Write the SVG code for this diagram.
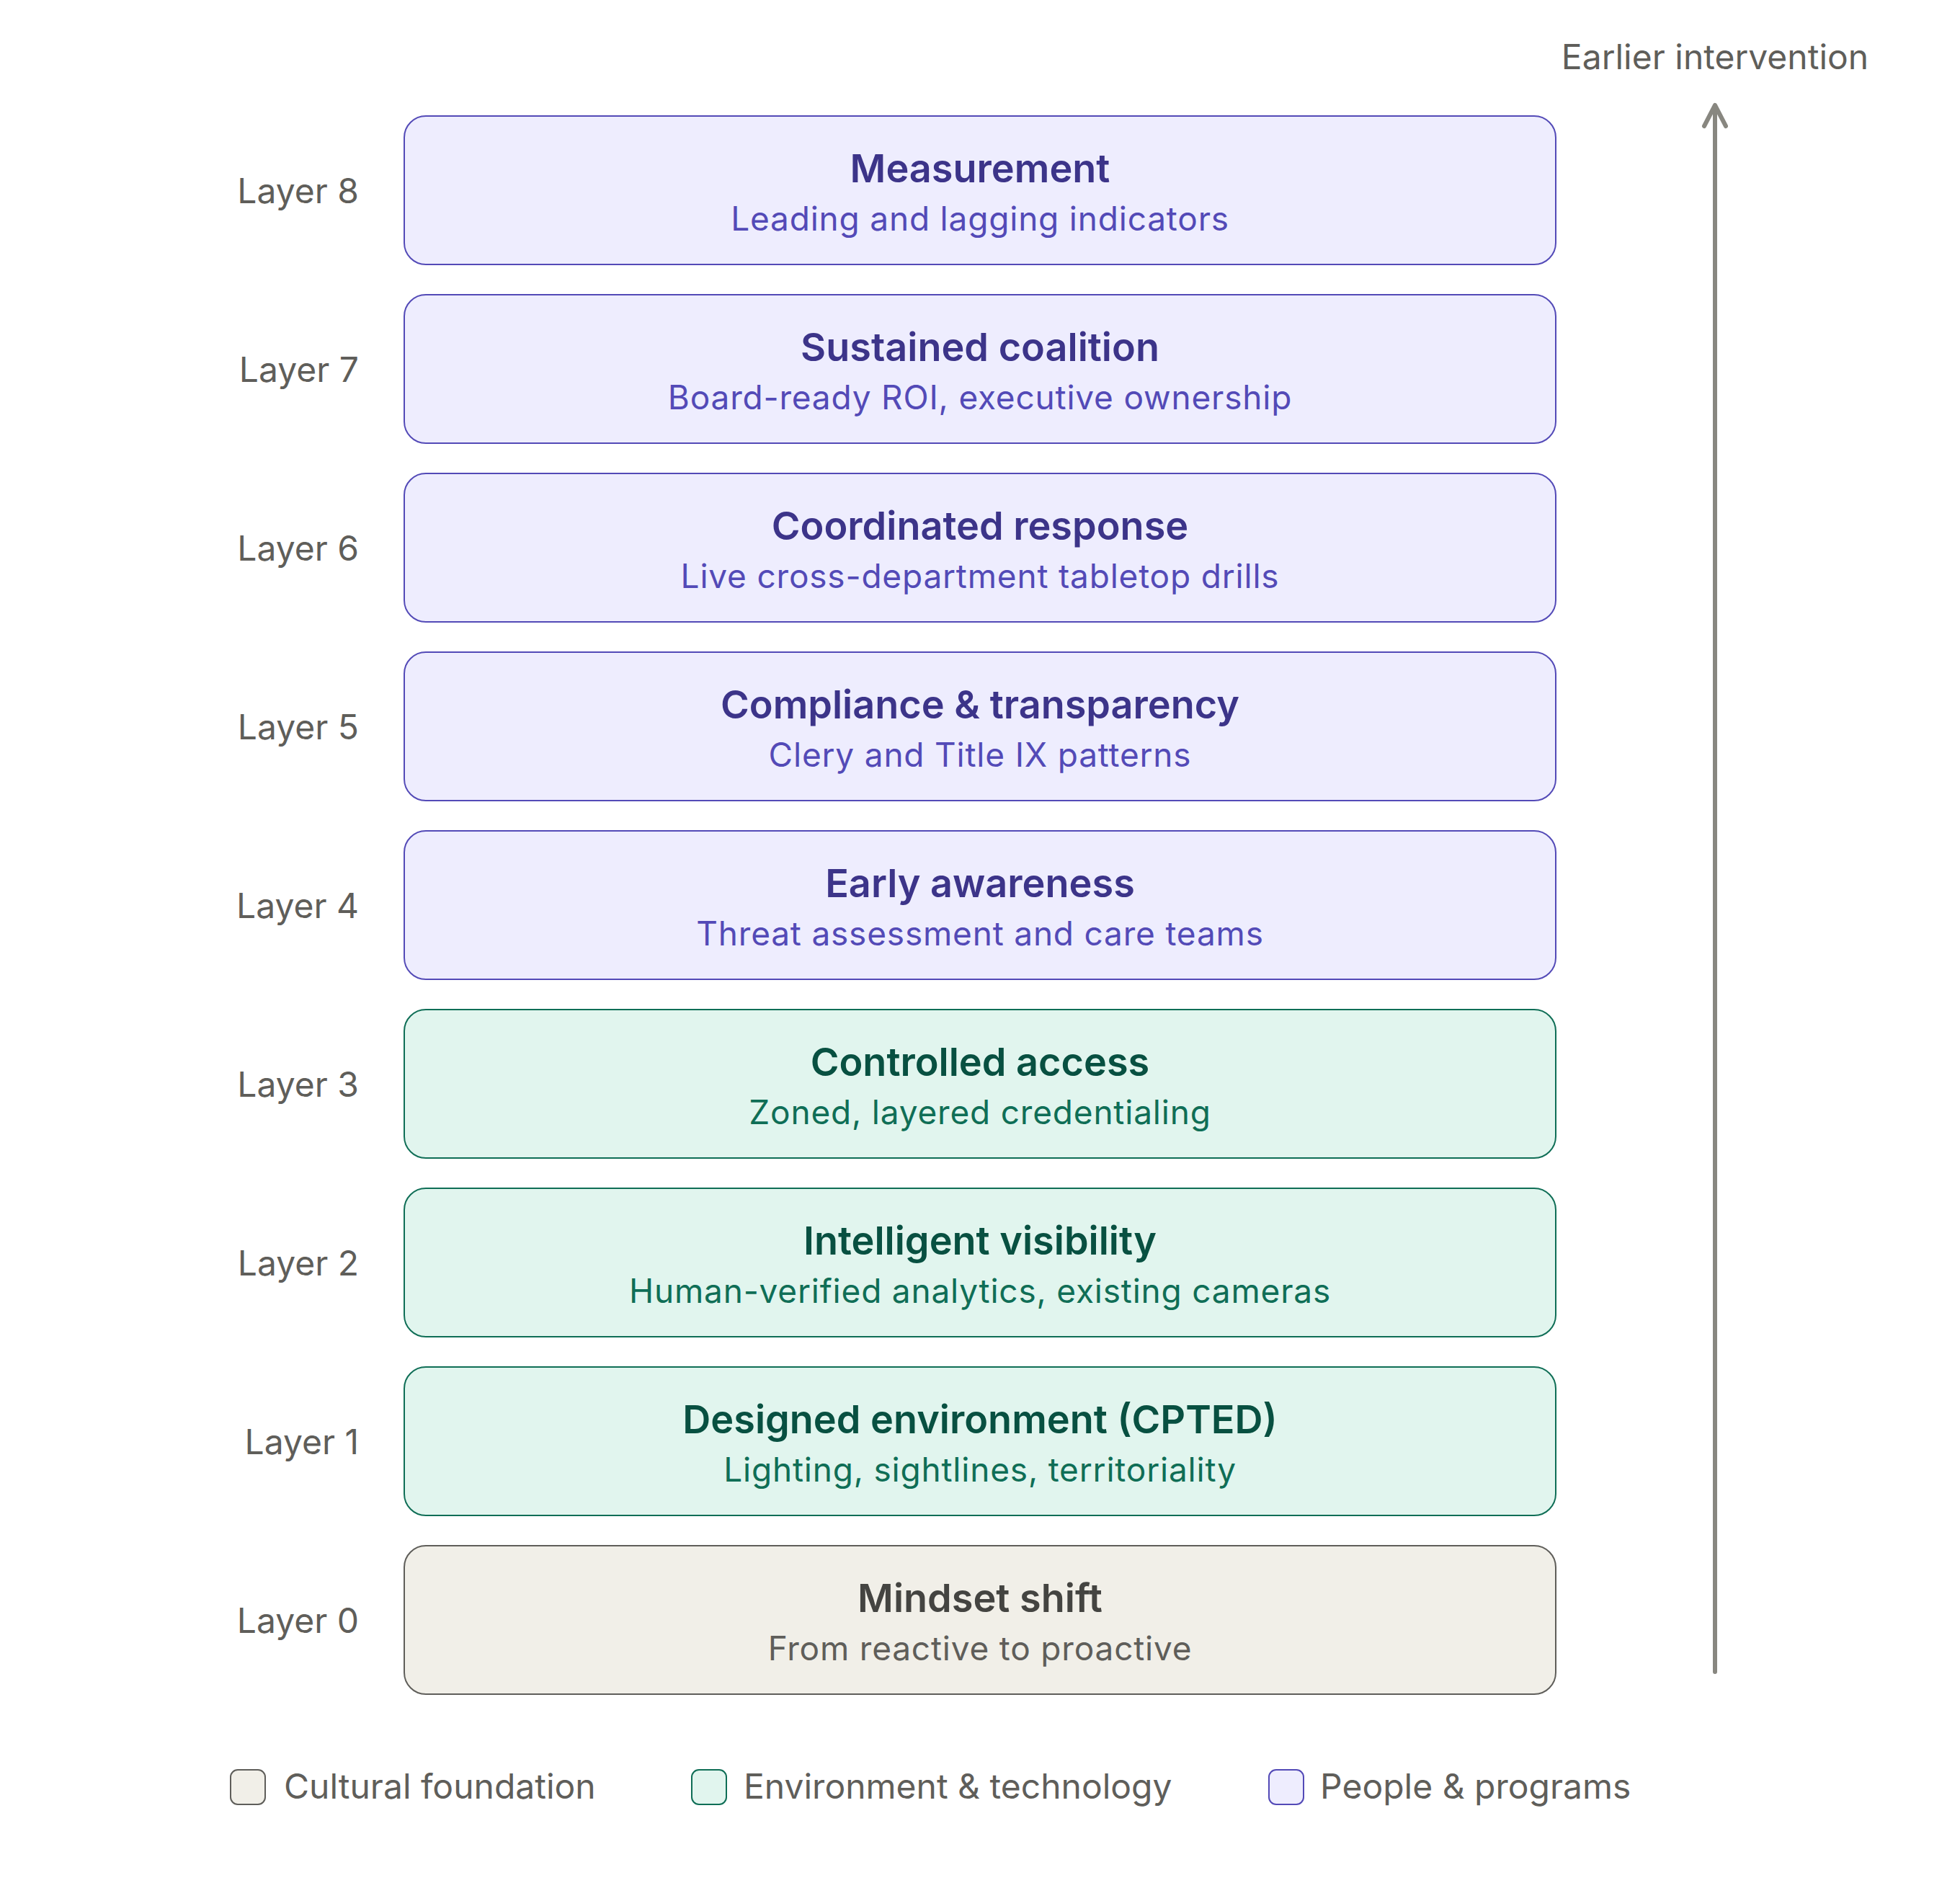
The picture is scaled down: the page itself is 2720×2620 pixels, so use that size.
<svg xmlns="http://www.w3.org/2000/svg" width="2720" height="2620" viewBox="0 0 2720 2620">
<style>
text{font-family:Inter,"Noto Sans","Liberation Sans",sans-serif}
.t{font-size:54px;font-weight:600;text-anchor:middle}
.s{font-size:46px;font-weight:400;text-anchor:middle;letter-spacing:0.8px}
.lab{font-size:48px;fill:#5F5E5A;text-anchor:end}
.leg{font-size:48px;fill:#5F5E5A}
.box{stroke-width:2}
.p rect{fill:#EEEDFE;stroke:#534AB7}
.p .t{fill:#3C3489}
.p .s{fill:#534AB7}
.g rect{fill:#E1F5EE;stroke:#0F6E56}
.g .t{fill:#085041}
.g .s{fill:#0F6E56}
.c rect{fill:#F1EFE8;stroke:#5F5E5A}
.c .t{fill:#444441}
.c .s{fill:#5F5E5A}
</style>
<rect width="2720" height="2620" fill="#FFFFFF"/>
<g id="connectors" stroke="#888780" stroke-width="6" fill="none" stroke-linecap="round" stroke-linejoin="round">
<line x1="2380" y1="2320" x2="2380" y2="150"/>
<polyline points="2365,175 2380,146 2395,175"/>
</g>
<text x="2380" y="96" style="font-size:48px;fill:#5F5E5A;text-anchor:middle">Earlier intervention</text>
<g id="layer8" class="p"><rect class="box" x="561" y="161" width="1598" height="206" rx="30"/><text class="t" x="1360" y="253">Measurement</text><text class="s" x="1360" y="320">Leading and lagging indicators</text><text class="lab" x="498" y="282">Layer 8</text></g>
<g id="layer7" class="p"><rect class="box" x="561" y="409" width="1598" height="206" rx="30"/><text class="t" x="1360" y="501">Sustained coalition</text><text class="s" x="1360" y="568">Board-ready ROI, executive ownership</text><text class="lab" x="498" y="530">Layer 7</text></g>
<g id="layer6" class="p"><rect class="box" x="561" y="657" width="1598" height="206" rx="30"/><text class="t" x="1360" y="749">Coordinated response</text><text class="s" x="1360" y="816">Live cross-department tabletop drills</text><text class="lab" x="498" y="778">Layer 6</text></g>
<g id="layer5" class="p"><rect class="box" x="561" y="905" width="1598" height="206" rx="30"/><text class="t" x="1360" y="997">Compliance &amp; transparency</text><text class="s" x="1360" y="1064">Clery and Title IX patterns</text><text class="lab" x="498" y="1026">Layer 5</text></g>
<g id="layer4" class="p"><rect class="box" x="561" y="1153" width="1598" height="206" rx="30"/><text class="t" x="1360" y="1245">Early awareness</text><text class="s" x="1360" y="1312">Threat assessment and care teams</text><text class="lab" x="498" y="1274">Layer 4</text></g>
<g id="layer3" class="g"><rect class="box" x="561" y="1401" width="1598" height="206" rx="30"/><text class="t" x="1360" y="1493">Controlled access</text><text class="s" x="1360" y="1560">Zoned, layered credentialing</text><text class="lab" x="498" y="1522">Layer 3</text></g>
<g id="layer2" class="g"><rect class="box" x="561" y="1649" width="1598" height="206" rx="30"/><text class="t" x="1360" y="1741">Intelligent visibility</text><text class="s" x="1360" y="1808">Human-verified analytics, existing cameras</text><text class="lab" x="498" y="1770">Layer 2</text></g>
<g id="layer1" class="g"><rect class="box" x="561" y="1897" width="1598" height="206" rx="30"/><text class="t" x="1360" y="1989">Designed environment (CPTED)</text><text class="s" x="1360" y="2056">Lighting, sightlines, territoriality</text><text class="lab" x="498" y="2018">Layer 1</text></g>
<g id="layer0" class="c"><rect class="box" x="561" y="2145" width="1598" height="206" rx="30"/><text class="t" x="1360" y="2237">Mindset shift</text><text class="s" x="1360" y="2304">From reactive to proactive</text><text class="lab" x="498" y="2266">Layer 0</text></g>
<g id="legend">
<g class="c"><rect class="box" x="320" y="2456" width="48" height="48" rx="10"/><text class="leg" x="394" y="2496">Cultural foundation</text></g>
<g class="g"><rect class="box" x="960" y="2456" width="48" height="48" rx="10"/><text class="leg" x="1032" y="2496">Environment &amp; technology</text></g>
<g class="p"><rect class="box" x="1761" y="2456" width="48" height="48" rx="10"/><text class="leg" x="1832" y="2496">People &amp; programs</text></g>
</g>
</svg>
